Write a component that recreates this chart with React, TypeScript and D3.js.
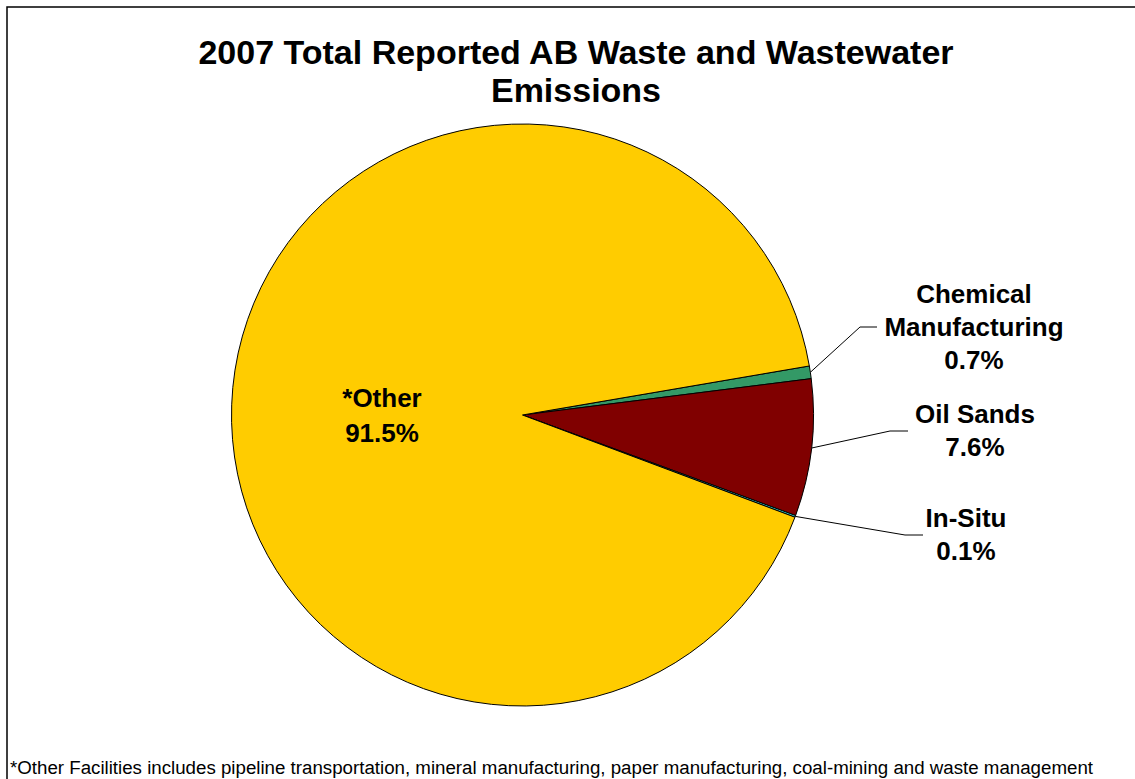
import React from "react";
import * as d3 from "d3";

const categories = ["Chemical Manufacturing", "Oil Sands", "In-Situ", "*Other"];
const values = [0.7, 7.6, 0.1, 91.5];
const labelLines = [["Chemical", "Manufacturing", "0.7%"], ["Oil Sands", "7.6%"], ["In-Situ", "0.1%"], ["*Other", "91.5%"]];
const colors = ["#339966", "#800000", "#33CCCC", "#FFCC00"];
const title = ["2007 Total Reported AB Waste and Wastewater", "Emissions"];
const footnote = "*Other Facilities includes pipeline transportation, mineral manufacturing, paper manufacturing, coal-mining and waste management";

const W = 1135, H = 779;
const cx = 522.5, cy = 415, R = 291;
const startDeg = 80.3;

const labelPos: Array<{ x: number; y: number; elbow?: [number, number, number] }> = [
  { x: 974, y: 303, elbow: [860, 327, 877] },
  { x: 975, y: 423, elbow: [890, 431, 908] },
  { x: 966, y: 527, elbow: [905, 535, 923] },
  { x: 382, y: 407 },
];

export default function App() {
  const pie = d3.pie<number>().sort(null).value((d) => d)
    .startAngle((startDeg * Math.PI) / 180)
    .endAngle((startDeg * Math.PI) / 180 + 2 * Math.PI);
  const arcs = pie(values);
  const arc = d3.arc<d3.PieArcDatum<number>>().innerRadius(0).outerRadius(R);
  const lineH = 33;

  return (
    <svg width={W} height={H} style={{ position: "absolute", left: 0, top: 0 }} fontFamily="Arial, 'Liberation Sans', sans-serif">
      <rect x={0} y={0} width={W} height={H} fill="#fff" />
      <path d={`M7,${H + 5} L7,7 L${W + 5},7`} fill="none" stroke="#000" strokeWidth={1.5} />
      {title.map((t, i) => (
        <text key={i} x={576} y={64 + i * 38} textAnchor="middle" fontWeight="bold" fontSize={34}>{t}</text>
      ))}
      <g transform={`translate(${cx},${cy})`}>
        {arcs.map((a, i) => (
          <path key={categories[i]} d={arc(a) || ""} fill={colors[i]} stroke="#000" strokeWidth={1} strokeLinejoin="round" />
        ))}
      </g>
      {arcs.map((a, i) => {
        const lp = labelPos[i];
        if (!lp.elbow) return null;
        const mid = (a.startAngle + a.endAngle) / 2;
        const px = cx + Math.sin(mid) * R;
        const py = cy - Math.cos(mid) * R;
        const [ex, ey, endx] = lp.elbow;
        return <polyline key={"l" + i} points={`${px},${py} ${ex},${ey} ${endx},${ey}`} fill="none" stroke="#000" strokeWidth={1} />;
      })}
      {labelLines.map((lines, i) => (
        <text key={"t" + i} textAnchor="middle" fontWeight="bold" fontSize={26} fill="#000">
          {lines.map((ln, j) => (
            <tspan key={j} x={labelPos[i].x} y={labelPos[i].y + j * (i === 3 ? 35 : lineH)}>{ln}</tspan>
          ))}
        </text>
      ))}
      <text x={10} y={774} fontSize={18} textLength={1083} lengthAdjust="spacingAndGlyphs" fill="#000">{footnote}</text>
    </svg>
  );
}
